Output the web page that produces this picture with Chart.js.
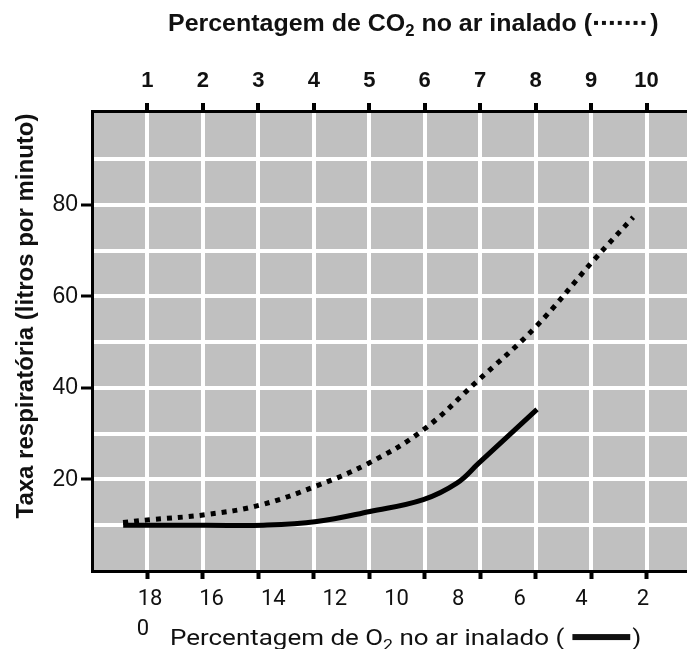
<!DOCTYPE html>
<html>
<head>
<meta charset="utf-8">
<script src="https://cdn.jsdelivr.net/npm/chart.js@4.4.0/dist/chart.umd.min.js"></script>
<style>
  html, body { margin: 0; padding: 0; background: #fff; }
  #wrap { width: 687px; height: 649px; }
</style>
</head>
<body>
<div id="wrap"><canvas id="chart" width="687" height="649"></canvas></div>
<script>
// curva pontilhada: % de CO2 no ar inalado
const co2Pct = [0.56, 1.05, 2.04, 3.03, 4.05, 4.98, 5.97, 6.94, 7.99, 9.04, 9.76];
const co2Rate = [10.6, 11.2, 12.3, 14.4, 18.6, 23.5, 30.8, 41.4, 53.2, 67.8, 77.3];

// curva contínua: % de O2 no ar inalado
const o2Pct = [18.87, 16.16, 14.32, 12.59, 10.86, 9.13, 8.04, 7.34, 5.44];
const o2Rate = [10.0, 10.0, 10.0, 10.8, 13.0, 15.6, 19.2, 23.5, 35.3];

// eixos
const co2Ticks = [1, 2, 3, 4, 5, 6, 7, 8, 9, 10];
const o2Ticks = [18, 16, 14, 12, 10, 8, 6, 4, 2];
const rateTicks = [10, 20, 30, 40, 50, 60, 70, 80, 90];
const rateLabels = [20, 40, 60, 80];

const SANS = "'Liberation Sans', Arial, sans-serif";
const ROBOTO = "Roboto, 'Liberation Sans', sans-serif";
const INK = '#111';

function drawParts(ctx, parts, x, baseline, size, weight, family, sx) {
    ctx.save();
    ctx.translate(x, baseline);
    ctx.scale(sx, 1);
    ctx.fillStyle = INK;
    ctx.textAlign = 'left';
    ctx.textBaseline = 'alphabetic';
    let cx = 0;
    parts.forEach(p => {
        if (typeof p === 'string') {
            ctx.font = `${weight} ${size}px ${family}`;
            ctx.fillText(p, cx, 0);
            cx += ctx.measureText(p).width;
        } else if (p.kind === 'sub') {
            ctx.font = `${weight} ${Math.round(size * 0.68)}px ${family}`;
            ctx.fillText(p.text, cx, size * 0.22);
            cx += ctx.measureText(p.text).width;
        } else if (p.kind === 'dots') {
            for (let i = 0; i < 7; i++) ctx.fillRect(cx + 2 + i * 7.6, -size * 0.42, 3.8, 4);
            cx += 56;
        } else if (p.kind === 'bar') {
            ctx.fillRect(cx + 6.8, -size * 0.36 - 3, 49, 6);
            cx += 57.6;
        }
    });
    ctx.restore();
}

const plotBg = {
    id: 'plotBg',
    beforeDraw(chart) {
        const { ctx, chartArea: a } = chart;
        ctx.save();
        ctx.fillStyle = '#c0c0c0';
        ctx.fillRect(a.left, a.top, a.right - a.left, a.bottom - a.top);
        ctx.restore();
    }
};

const titles = {
    id: 'titles',
    afterDraw(chart) {
        const ctx = chart.ctx;
        // título superior
        drawParts(ctx, ['Percentagem de CO', { kind: 'sub', text: '2' }, ' no ar inalado (', { kind: 'dots' }, ')'],
            168, 31, 24, 'bold', SANS, 1.04);
        // título inferior
        drawParts(ctx, ['Percentagem de O', { kind: 'sub', text: '2' }, ' no ar inalado (', { kind: 'bar' }, ')'],
            170, 645, 22, 'normal', ROBOTO, 1.18);
        // "0" solto abaixo do 18
        ctx.save();
        ctx.font = `22px ${ROBOTO}`;
        ctx.fillStyle = INK;
        ctx.textAlign = 'center';
        ctx.textBaseline = 'alphabetic';
        ctx.fillText('0', 143, 635);
        // título do eixo y
        ctx.translate(33, 316);
        ctx.rotate(-Math.PI / 2);
        ctx.font = `bold 24px ${SANS}`;
        ctx.fillText('Taxa respiratória (litros por minuto)', 0, 0);
        ctx.restore();
    }
};

const setTicks = list => scale => { scale.ticks = list.map(v => ({ value: v })); };

new Chart(document.getElementById('chart'), {
    type: 'line',
    data: {
        datasets: [{
            label: 'CO2',
            data: co2Pct.map((x, i) => ({ x, y: co2Rate[i] })),
            xAxisID: 'x',
            yAxisID: 'y',
            borderColor: '#000',
            borderWidth: 5,
            borderDash: [5, 6],
            borderCapStyle: 'butt',
            pointRadius: 0,
            tension: 0.4,
            fill: false
        }, {
            label: 'O2',
            data: o2Pct.map((x, i) => ({ x, y: o2Rate[i] })),
            xAxisID: 'o2',
            yAxisID: 'y',
            borderColor: '#000',
            borderWidth: 5,
            borderCapStyle: 'butt',
            pointRadius: 0,
            tension: 0.4,
            fill: false
        }]
    },
    options: {
        responsive: false,
        animation: false,
        devicePixelRatio: 1,
        layout: { padding: 0 },
        plugins: {
            legend: { display: false },
            tooltip: { enabled: false }
        },
        scales: {
            y: {
                type: 'linear',
                position: 'left',
                min: 0,
                max: 100.5,
                afterBuildTicks: setTicks(rateTicks),
                afterFit: s => { s.width = 92; },
                ticks: {
                    callback: v => rateLabels.includes(v) ? String(v) : '',
                    font: { family: SANS, size: 23 },
                    color: INK,
                    padding: 3
                },
                grid: {
                    color: '#fff',
                    lineWidth: 4,
                    tickLength: 11,
                    tickWidth: 3,
                    tickColor: c => rateLabels.includes(c.tick.value) ? '#000' : 'rgba(0,0,0,0)'
                },
                border: { color: '#000', width: 3 }
            },
            x: {
                type: 'linear',
                position: 'top',
                min: 0,
                max: 10.73,
                afterBuildTicks: setTicks(co2Ticks),
                afterFit: s => { s.height = 111; },
                ticks: {
                    font: { family: "'Liberation Sans Narrow', " + SANS, size: 22, weight: 'bold' },
                    color: INK,
                    padding: 9,
                    maxRotation: 0,
                    autoSkip: false
                },
                grid: { color: '#fff', lineWidth: 4, tickLength: 8, tickWidth: 4, tickColor: '#000' },
                border: { color: '#000', width: 3 }
            },
            xb: {
                type: 'linear',
                position: 'bottom',
                weight: 0,
                min: 0,
                max: 10.73,
                afterBuildTicks: setTicks(co2Ticks),
                afterFit: s => { s.height = 8; },
                ticks: { display: false },
                grid: { drawOnChartArea: false, tickLength: 8, tickWidth: 4, tickColor: '#000' },
                border: { color: '#000', width: 3 }
            },
            o2: {
                type: 'linear',
                position: 'bottom',
                weight: 1,
                reverse: true,
                min: 0.572,
                max: 19.882,
                afterBuildTicks: setTicks(o2Ticks),
                afterFit: s => { s.height = 70; },
                ticks: {
                    font: { family: ROBOTO, size: 22 },
                    color: INK,
                    padding: 7,
                    maxRotation: 0,
                    autoSkip: false
                },
                grid: { display: false, drawTicks: false },
                border: { display: false }
            }
        }
    },
    plugins: [plotBg, titles]
});
</script>
</body>
</html>
